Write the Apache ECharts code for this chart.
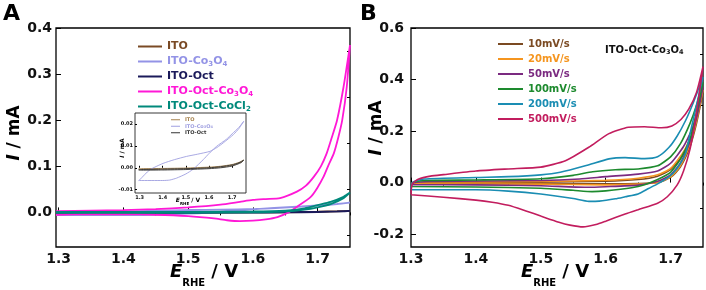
<!DOCTYPE html>
<html><head><meta charset="utf-8">
<script src="https://cdn.jsdelivr.net/npm/echarts@6/dist/echarts.min.js"></script>
<style>html,body{margin:0;padding:0;background:#fff}#c{width:706px;height:290px}</style>
</head><body><div id="c"></div>
<script>
// ---------- Panel A data (E vs I) ----------
const ito_fwd = [[1.296,-0.0004],[1.4,-0.0003],[1.5,-0.0001],[1.6,0.0003],[1.65,0.0007],[1.7,0.0015],[1.73,0.0025],[1.75,0.0035]];
const ito_rev = [[1.74,0.0026],[1.7,0.0011],[1.65,0.0003],[1.6,0.0],[1.5,-0.0004],[1.4,-0.0006],[1.296,-0.0007]];
const itoCo_fwd = [[1.296,-0.0058],[1.3,-0.0055],[1.343,-0.001],[1.401,0.002],[1.45,0.0037],[1.503,0.0052],[1.55,0.0062],[1.604,0.0075],[1.635,0.0093],[1.662,0.0114],[1.706,0.0152],[1.73,0.018],[1.75,0.0212]];
const itoCo_rev = [[1.73,0.0185],[1.7,0.0155],[1.675,0.013],[1.633,0.0098],[1.6,0.0065],[1.575,0.0037],[1.532,-0.0006],[1.5,-0.0028],[1.46,-0.0047],[1.43,-0.0056],[1.4,-0.0058],[1.3,-0.0058],[1.296,-0.0058]];
const itoOct_fwd = [[1.296,-0.0008],[1.4,-0.0006],[1.5,-0.0004],[1.6,0.0],[1.65,0.0005],[1.7,0.0013],[1.73,0.0023],[1.75,0.0035]];
const itoOct_rev = [[1.74,0.0024],[1.7,0.0008],[1.65,0.0],[1.6,-0.0004],[1.5,-0.0008],[1.4,-0.001],[1.296,-0.0011]];
const octCo_fwd = [[1.296,0.003],[1.35,0.004],[1.4,0.005],[1.45,0.007],[1.5,0.011],[1.55,0.017],[1.58,0.023],[1.6,0.027],[1.62,0.029],[1.642,0.031],[1.668,0.045],[1.682,0.058],[1.694,0.077],[1.705,0.1],[1.714,0.128],[1.722,0.163],[1.73,0.2],[1.74,0.272],[1.75,0.363]];
const octCo_rev = [[1.745,0.272],[1.738,0.2],[1.732,0.163],[1.725,0.128],[1.716,0.1],[1.709,0.077],[1.699,0.052],[1.689,0.033],[1.668,0.012],[1.655,0.0],[1.638,-0.01],[1.62,-0.015],[1.6,-0.018],[1.58,-0.019],[1.56,-0.017],[1.54,-0.013],[1.5,-0.008],[1.45,-0.005],[1.4,-0.004],[1.35,-0.004],[1.296,-0.005]];
const octCl_fwd = [[1.296,0.001],[1.4,0.001],[1.5,0.0012],[1.6,0.002],[1.65,0.004],[1.68,0.009],[1.7,0.016],[1.72,0.023],[1.74,0.034],[1.75,0.043]];
const octCl_rev = [[1.74,0.031],[1.72,0.018],[1.7,0.011],[1.68,0.006],[1.65,0.002],[1.6,0.0],[1.5,-0.001],[1.4,-0.0012],[1.296,-0.0012]];

// ---------- Panel B data (scan rates) ----------
const r10_fwd = [[1.3,-0.003],[1.33,0.001],[1.5,0.002],[1.6,0.005],[1.65,0.012],[1.68,0.025],[1.7,0.05],[1.72,0.11],[1.735,0.19],[1.75,0.35]];
const r10_rev = [[1.74,0.23],[1.73,0.14],[1.715,0.06],[1.7,0.02],[1.68,0.0],[1.65,-0.004],[1.6,-0.005],[1.5,-0.004],[1.3,-0.003]];
const r20_fwd = [[1.3,-0.005],[1.305,0.0],[1.33,0.002],[1.5,0.004],[1.6,0.009],[1.65,0.017],[1.68,0.03],[1.7,0.055],[1.72,0.12],[1.735,0.2],[1.75,0.36]];
const r20_rev = [[1.74,0.24],[1.73,0.15],[1.715,0.065],[1.7,0.022],[1.68,0.0],[1.65,-0.006],[1.6,-0.009],[1.5,-0.006],[1.3,-0.005]];
const r50_fwd = [[1.3,-0.008],[1.304,0.0],[1.33,0.004],[1.5,0.008],[1.56,0.014],[1.6,0.023],[1.65,0.033],[1.68,0.045],[1.7,0.075],[1.72,0.14],[1.735,0.22],[1.75,0.37]];
const r50_rev = [[1.74,0.25],[1.73,0.16],[1.715,0.075],[1.7,0.03],[1.68,0.005],[1.65,-0.01],[1.6,-0.016],[1.57,-0.018],[1.5,-0.012],[1.4,-0.009],[1.3,-0.008]];
const r100_fwd = [[1.3,-0.015],[1.303,0.0],[1.32,0.008],[1.4,0.01],[1.5,0.015],[1.55,0.028],[1.58,0.042],[1.615,0.05],[1.65,0.053],[1.68,0.065],[1.7,0.1],[1.715,0.15],[1.73,0.23],[1.74,0.3],[1.75,0.39]];
const r100_rev = [[1.74,0.27],[1.73,0.17],[1.715,0.09],[1.7,0.04],[1.68,0.012],[1.66,-0.008],[1.64,-0.02],[1.6,-0.032],[1.579,-0.035],[1.55,-0.03],[1.5,-0.022],[1.4,-0.017],[1.3,-0.015]];
const r200_fwd = [[1.3,-0.028],[1.302,0.0],[1.32,0.014],[1.4,0.02],[1.45,0.023],[1.5,0.03],[1.53,0.04],[1.57,0.066],[1.605,0.092],[1.63,0.097],[1.66,0.093],[1.68,0.1],[1.697,0.135],[1.71,0.18],[1.723,0.24],[1.735,0.31],[1.75,0.41]];
const r200_rev = [[1.74,0.3],[1.73,0.19],[1.723,0.112],[1.71,0.055],[1.697,0.021],[1.68,-0.005],[1.666,-0.023],[1.65,-0.044],[1.63,-0.055],[1.615,-0.063],[1.59,-0.072],[1.574,-0.073],[1.55,-0.062],[1.5,-0.044],[1.45,-0.033],[1.4,-0.028],[1.3,-0.028]];
const r500_fwd = [[1.3,-0.045],[1.302,-0.005],[1.312,0.014],[1.33,0.025],[1.35,0.031],[1.4,0.045],[1.45,0.053],[1.5,0.06],[1.538,0.085],[1.574,0.137],[1.605,0.19],[1.635,0.215],[1.66,0.217],[1.686,0.213],[1.702,0.22],[1.716,0.245],[1.728,0.285],[1.74,0.35],[1.75,0.45]];
const r500_rev = [[1.745,0.36],[1.738,0.24],[1.73,0.13],[1.72,0.045],[1.71,-0.01],[1.695,-0.055],[1.68,-0.08],[1.65,-0.105],[1.63,-0.122],[1.6,-0.15],[1.585,-0.163],[1.565,-0.172],[1.545,-0.165],[1.528,-0.154],[1.5,-0.13],[1.476,-0.109],[1.45,-0.088],[1.425,-0.076],[1.4,-0.068],[1.35,-0.057],[1.3,-0.047]];

// ---------- names, colours, ticks ----------
const namesA = ['ITO','ITO-Co3O4','ITO-Oct','ITO-Oct-Co3O4','ITO-Oct-CoCl2'];
const colorsA = ['#7a4a25','#9393e6','#1b1a5a','#ff18d6','#00897b'];
const namesInset = ['ITO','ITO-Co3O4','ITO-Oct'];
const colorsInset = ['#a5824e','#9f9fe0','#333333'];
const namesB = ['10mV/s','20mV/s','50mV/s','100mV/s','200mV/s','500mV/s'];
const colorsB = ['#7b4a22','#f5951f','#7b2a80','#1d8a2e','#1a8db3','#c21d5e'];
const xTicksA = [1.3,1.4,1.5,1.6,1.7], xMinorA = [1.35,1.45,1.55,1.65,1.75];
const yTicksA = [0,0.1,0.2,0.3,0.4], yMinorA = [-0.05,0.05,0.15,0.25,0.35];
const xTicksB = [1.3,1.4,1.5,1.6,1.7], xMinorB = [1.35,1.45,1.55,1.65,1.75];
const yTicksB = [-0.2,0,0.2,0.4,0.6], yMinorB = [-0.1,0.1,0.3,0.5];
const xTicksIn = [1.3,1.4,1.5,1.6,1.7];
const yTicksIn = [-0.01,0,0.01,0.02];

const FF = 'DejaVu Sans';
const seriesA = [[ito_fwd,ito_rev],[itoCo_fwd,itoCo_rev],[itoOct_fwd,itoOct_rev],[octCo_fwd,octCo_rev],[octCl_fwd,octCl_rev]];
const seriesB = [[r10_fwd,r10_rev],[r20_fwd,r20_rev],[r50_fwd,r50_rev],[r100_fwd,r100_rev],[r200_fwd,r200_rev],[r500_fwd,r500_rev]];

function axis(grid, min, max, ticks, fmt, fs, margin, len, z){
  return {type:'value', gridIndex:grid, min, max, scale:true, z:z||0,
    axisLine:{show:false}, splitLine:{show:false},
    axisTick:{show:true, inside:true, length:len, customValues:ticks, lineStyle:{color:'#000', width:1}},
    axisLabel:{show:true, customValues:ticks, formatter:fmt, fontFamily:FF, fontWeight:'bold', fontSize:fs, color:'#111', margin}};
}
function minorAxis(grid, min, max, ticks, len){
  return {type:'value', gridIndex:grid, min, max, axisLine:{show:false}, splitLine:{show:false},
    axisTick:{show:true, inside:true, length:len, customValues:ticks, lineStyle:{color:'#000', width:1}},
    axisLabel:{show:false}};
}
const f1 = v => (Math.abs(v)<1e-9?0:v).toFixed(1);
const f2 = v => (Math.abs(v)<1e-9?0:v).toFixed(2);

const xAxis = [
  axis(0,1.296,1.75,xTicksA,f1,14,5,5),
  minorAxis(0,1.296,1.75,xMinorA,3),
  axis(1,1.3,1.75,xTicksB,f1,14,5,5),
  minorAxis(1,1.3,1.75,xMinorB,3),
  axis(2,1.28,1.76,xTicksIn,f1,5,2,2,10)
];
const yAxis = [
  axis(0,-0.075,0.4,yTicksA,f1,14,4,5),
  minorAxis(0,-0.075,0.4,yMinorA,3),
  axis(1,-0.25,0.6,yTicksB,f1,14,7,5),
  minorAxis(1,-0.25,0.6,yMinorB,3),
  axis(2,-0.0115,0.025,yTicksIn,f2,5,2,2,10)
];

const series = [];
seriesA.forEach((s,i)=>series.push({type:'line', name:namesA[i], xAxisIndex:0, yAxisIndex:0,
  data:s[0].concat(s[1]), smooth:0.2, showSymbol:false, symbol:'none', lineStyle:{color:colorsA[i], width:1.8}, itemStyle:{color:colorsA[i]}, z:2+i}));
[0,1,2].forEach(i=>series.push({type:'line', name:namesInset[i]+' ', xAxisIndex:4, yAxisIndex:4,
  data:seriesA[i][0].concat(seriesA[i][1]), smooth:0.2, showSymbol:false, symbol:'none', lineStyle:{color:colorsInset[i], width:0.9}, itemStyle:{color:colorsInset[i]}, z:10}));
seriesB.forEach((s,i)=>series.push({type:'line', name:namesB[i], xAxisIndex:2, yAxisIndex:2,
  data:s[0].concat(s[1]), smooth:0.2, showSymbol:false, symbol:'none', lineStyle:{color:colorsB[i], width:1.6}, itemStyle:{color:colorsB[i]}, z:2+i}));

function legendFmt(n){
  const t = n.trim();
  const parts = t.replace('Co3O4','Co\u0001O\u0002').replace('CoCl2','CoCl\u0003');
  return '{m|'+parts.replace('\u0001','}{s|3}{m|').replace('\u0002','}{s|4}{m|').replace('\u0003','}{s|2}{m|')+'}';
}

const option = {
  animation:false,
  grid:[
    {left:56, top:28, width:294, height:219, show:true, borderColor:'#000', borderWidth:1.3, backgroundColor:'transparent'},
    {left:411, top:28, width:292, height:219, show:true, borderColor:'#000', borderWidth:1.3, backgroundColor:'transparent'},
    {left:135, top:113, width:111, height:80, show:true, borderColor:'#222', borderWidth:0.9, backgroundColor:'#fff', z:5}
  ],
  xAxis, yAxis, series,
  legend:[
    {left:138, top:40, padding:0, orient:'vertical', icon:'rect', itemWidth:24, itemHeight:2, itemGap:2, z:20,
     data:namesA.map((n,i)=>({name:n, textStyle:{color:colorsA[i]}})), formatter:legendFmt,
     textStyle:{fontFamily:FF, fontWeight:'bold', fontSize:11, lineHeight:13,
       rich:{m:{fontFamily:FF, fontWeight:'bold', fontSize:11, lineHeight:13}, s:{fontFamily:FF, fontWeight:'bold', fontSize:7, lineHeight:9, verticalAlign:'bottom'}}}},
    {left:498, top:38, padding:0, orient:'vertical', icon:'rect', itemWidth:25, itemHeight:2, itemGap:3, z:20,
     data:namesB.map((n,i)=>({name:n, textStyle:{color:colorsB[i]}})),
     textStyle:{fontFamily:FF, fontWeight:'bold', fontSize:10, lineHeight:12}},
    {left:171, top:117, padding:0, orient:'vertical', icon:'rect', itemWidth:9, itemHeight:1, itemGap:1, z:20,
     data:namesInset.map((n,i)=>({name:n+' ', textStyle:{color:colorsInset[i]}})), formatter:legendFmt,
     textStyle:{fontFamily:FF, fontWeight:'bold', fontSize:5, lineHeight:5.5,
       rich:{m:{fontFamily:FF, fontWeight:'bold', fontSize:5, lineHeight:5.5}, s:{fontFamily:FF, fontWeight:'bold', fontSize:3.5, lineHeight:4, verticalAlign:'bottom'}}}}
  ],
  graphic:[
    {type:'text', left:3, top:3, style:{text:'A', font:'bold 22px "DejaVu Sans"', fill:'#000'}},
    {type:'text', left:360, top:3, style:{text:'B', font:'bold 22px "DejaVu Sans"', fill:'#000'}},
    {type:'text', x:15, y:133, rotation:Math.PI/2, style:{text:'{i|I}{n| / mA}', align:'center', verticalAlign:'middle',
      rich:{i:{fontFamily:FF, fontWeight:'bold', fontStyle:'italic', fontSize:17, fill:'#000'}, n:{fontFamily:FF, fontWeight:'bold', fontSize:17, fill:'#000'}}}},
    {type:'text', x:377, y:128, rotation:Math.PI/2, style:{text:'{i|I}{n| / mA}', align:'center', verticalAlign:'middle',
      rich:{i:{fontFamily:FF, fontWeight:'bold', fontStyle:'italic', fontSize:17, fill:'#000'}, n:{fontFamily:FF, fontWeight:'bold', fontSize:17, fill:'#000'}}}},
    {type:'text', x:204, y:263, style:{text:'{e|E}{s|RHE}{n| / V}', align:'center', verticalAlign:'top',
      rich:{e:{fontFamily:FF, fontWeight:'bold', fontStyle:'italic', fontSize:18, lineHeight:20, verticalAlign:'top', fill:'#000'},
            s:{fontFamily:FF, fontWeight:'bold', fontSize:10, lineHeight:10, padding:[15,0,0,0], verticalAlign:'top', fill:'#000'},
            n:{fontFamily:FF, fontWeight:'bold', fontSize:18, lineHeight:20, verticalAlign:'top', fill:'#000'}}}},
    {type:'text', x:555, y:263, style:{text:'{e|E}{s|RHE}{n| / V}', align:'center', verticalAlign:'top',
      rich:{e:{fontFamily:FF, fontWeight:'bold', fontStyle:'italic', fontSize:18, lineHeight:20, verticalAlign:'top', fill:'#000'},
            s:{fontFamily:FF, fontWeight:'bold', fontSize:10, lineHeight:10, padding:[15,0,0,0], verticalAlign:'top', fill:'#000'},
            n:{fontFamily:FF, fontWeight:'bold', fontSize:18, lineHeight:20, verticalAlign:'top', fill:'#000'}}}},
    {type:'text', x:605, y:50, style:{text:'{t|ITO-Oct-Co}{s|3}{t|O}{s|4}', align:'left', verticalAlign:'middle',
      rich:{t:{fontFamily:FF, fontWeight:'bold', fontSize:10, lineHeight:12, fill:'#111'}, s:{fontFamily:FF, fontWeight:'bold', fontSize:6.5, lineHeight:8, verticalAlign:'bottom', fill:'#111'}}}},
    {type:'text', x:122, y:148, rotation:Math.PI/2, z:20, style:{text:'{i|I}{n| / mA}', align:'center', verticalAlign:'middle',
      rich:{i:{fontFamily:FF, fontWeight:'bold', fontStyle:'italic', fontSize:6, fill:'#000'}, n:{fontFamily:FF, fontWeight:'bold', fontSize:6, fill:'#000'}}}},
    {type:'text', x:188, y:197, z:20, style:{text:'{e|E}{s|RHE}{n| / V}', align:'center', verticalAlign:'top',
      rich:{e:{fontFamily:FF, fontWeight:'bold', fontStyle:'italic', fontSize:6, lineHeight:7, verticalAlign:'top', fill:'#000'},
            s:{fontFamily:FF, fontWeight:'bold', fontSize:4, lineHeight:4, padding:[5,0,0,0], verticalAlign:'top', fill:'#000'},
            n:{fontFamily:FF, fontWeight:'bold', fontSize:6, lineHeight:7, verticalAlign:'top', fill:'#000'}}}}
  ]
};
const chart = echarts.init(document.getElementById('c'), null, {renderer:'canvas'});
chart.setOption(option);
</script></body></html>
